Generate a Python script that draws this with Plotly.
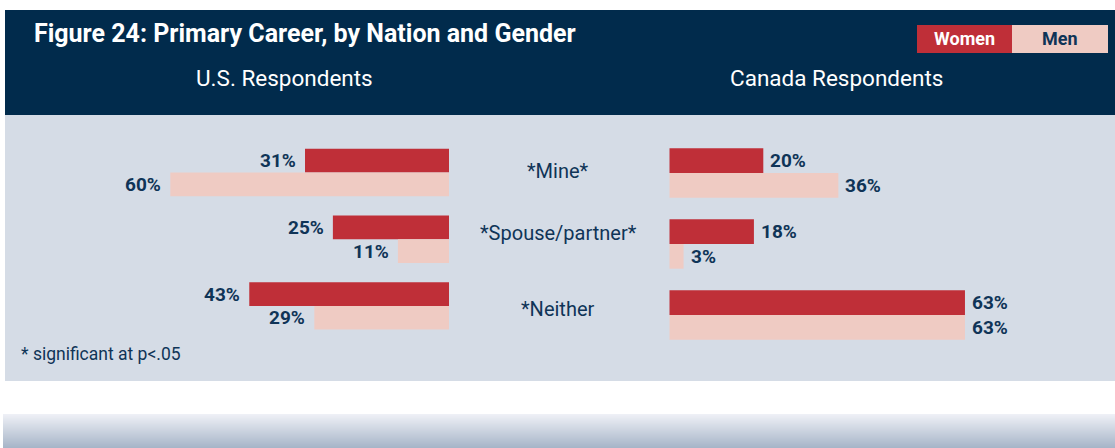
import plotly.graph_objects as go

# ---------------- data ----------------
categories = ["*Mine*", "*Spouse/partner*", "*Neither"]
us_women = [31, 25, 43]
us_men = [60, 11, 29]
ca_women = [20, 18, 63]
ca_men = [36, 3, 63]
series_names = ["Women", "Men"]
title_text = "Figure 24: Primary Career, by Nation and Gender"
panel_titles = ["U.S. Respondents", "Canada Respondents"]
footnote = "* significant at p<.05"

# ---------------- style ----------------
W, H = 1115, 448
NAVY_BG = "#012b4c"
PANEL = "#d5dce6"
RED = "#bf2f38"
PINK = "#efcbc3"
TXT = "#0f3457"
FONT = "Roboto, sans-serif"


def px(x):
    return x / W


def py(y):
    return 1 - y / H


# axis scales (pixel mapping)
us_right, us_scale = 449.0, 4.645
ca_left, ca_scale = 669.5, 4.69
us_c0, us_step = 172.5, 66.7
ca_c0, ca_step = 173.0, 71.0
us_bw = 23.7 / us_step
ca_bw = 24.7 / ca_step

idx = list(range(len(categories)))

fig = go.Figure()
fig.add_trace(go.Bar(orientation="h", x=us_women, y=idx, xaxis="x", yaxis="y",
                     width=us_bw, offset=-us_bw, marker=dict(color=RED, line_width=0),
                     name=series_names[0], hoverinfo="skip", showlegend=False))
fig.add_trace(go.Bar(orientation="h", x=us_men, y=idx, xaxis="x", yaxis="y",
                     width=us_bw, offset=0, marker=dict(color=PINK, line_width=0),
                     name=series_names[1], hoverinfo="skip", showlegend=False))
fig.add_trace(go.Bar(orientation="h", x=ca_women, y=idx, xaxis="x2", yaxis="y2",
                     width=ca_bw, offset=-ca_bw, marker=dict(color=RED, line_width=0),
                     name=series_names[0], hoverinfo="skip", showlegend=False))
fig.add_trace(go.Bar(orientation="h", x=ca_men, y=idx, xaxis="x2", yaxis="y2",
                     width=ca_bw, offset=0, marker=dict(color=PINK, line_width=0),
                     name=series_names[1], hoverinfo="skip", showlegend=False))

ann = []
lab_font = dict(family=FONT, size=19, color=TXT)
for i in idx:
    ann.append(dict(x=us_women[i], y=i - us_bw / 2, xref="x", yref="y", text=f"<b>{us_women[i]}%</b>",
                    showarrow=False, xanchor="right", yanchor="middle", xshift=-7, font=lab_font))
    ann.append(dict(x=us_men[i], y=i + us_bw / 2, xref="x", yref="y", text=f"<b>{us_men[i]}%</b>",
                    showarrow=False, xanchor="right", yanchor="middle", xshift=-7, font=lab_font))
    ann.append(dict(x=ca_women[i], y=i - ca_bw / 2, xref="x2", yref="y2", text=f"<b>{ca_women[i]}%</b>",
                    showarrow=False, xanchor="left", yanchor="middle", xshift=5, font=lab_font))
    ann.append(dict(x=ca_men[i], y=i + ca_bw / 2, xref="x2", yref="y2", text=f"<b>{ca_men[i]}%</b>",
                    showarrow=False, xanchor="left", yanchor="middle", xshift=5, font=lab_font))

# category labels in the middle
cat_y = [171, 232.5, 308.5]
for i, c in enumerate(categories):
    ann.append(dict(x=px(558), y=py(cat_y[i]), xref="paper", yref="paper", text=c, showarrow=False,
                    xanchor="center", yanchor="middle", font=dict(family=FONT, size=20, color=TXT)))

# header texts
ann.append(dict(x=px(32), y=py(33), xref="paper", yref="paper", text=f"<b>{title_text}</b>",
                showarrow=False, xanchor="left", yanchor="middle",
                font=dict(family=FONT, size=25, color="white")))
ann.append(dict(x=px(284.5), y=py(78), xref="paper", yref="paper", text=panel_titles[0],
                showarrow=False, xanchor="center", yanchor="middle",
                font=dict(family=FONT, size=22.5, color="white")))
ann.append(dict(x=px(836), y=py(78), xref="paper", yref="paper", text=panel_titles[1],
                showarrow=False, xanchor="center", yanchor="middle",
                font=dict(family=FONT, size=22.5, color="white")))
# legend
ann.append(dict(x=px(964.5), y=py(39), xref="paper", yref="paper", text=f"<b>{series_names[0]}</b>",
                showarrow=False, xanchor="center", yanchor="middle",
                font=dict(family=FONT, size=18, color="white")))
ann.append(dict(x=px(1060), y=py(39), xref="paper", yref="paper", text=f"<b>{series_names[1]}</b>",
                showarrow=False, xanchor="center", yanchor="middle",
                font=dict(family=FONT, size=18, color=TXT)))
# footnote
ann.append(dict(x=px(19), y=py(354), xref="paper", yref="paper", text=footnote,
                showarrow=False, xanchor="left", yanchor="middle",
                font=dict(family=FONT, size=17.5, color=TXT)))

shapes = [
    dict(type="rect", xref="paper", yref="paper", x0=px(5), x1=1, y0=py(115), y1=py(10),
         fillcolor=NAVY_BG, line_width=0, layer="below"),
    dict(type="rect", xref="paper", yref="paper", x0=px(5), x1=1, y0=py(381), y1=py(115),
         fillcolor=PANEL, line_width=0, layer="below"),
    dict(type="rect", xref="paper", yref="paper", x0=px(917), x1=px(1012), y0=py(53), y1=py(25),
         fillcolor=RED, line_width=0, layer="below"),
    dict(type="rect", xref="paper", yref="paper", x0=px(1012), x1=px(1108), y0=py(53), y1=py(25),
         fillcolor=PINK, line_width=0, layer="below"),
]
# bottom gradient band
top_c = (0xee, 0xf0, 0xf6)
bot_c = (0xa7, 0xb5, 0xc8)
g0, g1 = 414, 448
n = g1 - g0
for k in range(n):
    t = k / (n - 1)
    c = tuple(round(top_c[j] + (bot_c[j] - top_c[j]) * t) for j in range(3))
    shapes.append(dict(type="rect", xref="paper", yref="paper", x0=px(3), x1=1,
                       y0=py(g0 + k + 1), y1=py(g0 + k),
                       fillcolor="rgb(%d,%d,%d)" % c, line_width=0, layer="below"))

hidden = dict(visible=False, showgrid=False, zeroline=False, fixedrange=True)
fig.update_layout(
    width=W, height=H, margin=dict(l=0, r=0, t=0, b=0),
    paper_bgcolor="white", plot_bgcolor="rgba(0,0,0,0)",
    barmode="overlay", showlegend=False,
    xaxis=dict(range=[us_right / us_scale, (us_right - W) / us_scale], domain=[0, 1], **hidden),
    yaxis=dict(range=[(H - us_c0) / us_step, -us_c0 / us_step], domain=[0, 1], **hidden),
    xaxis2=dict(range=[-ca_left / ca_scale, (W - ca_left) / ca_scale], domain=[0, 1],
                overlaying="x", anchor="y2", **hidden),
    yaxis2=dict(range=[(H - ca_c0) / ca_step, -ca_c0 / ca_step], domain=[0, 1],
                overlaying="y", anchor="x2", **hidden),
    annotations=ann, shapes=shapes,
)

fig.write_html("out.html", config={"displayModeBar": False},
               post_script="document.body.style.margin='0';document.body.style.overflow='hidden';")
